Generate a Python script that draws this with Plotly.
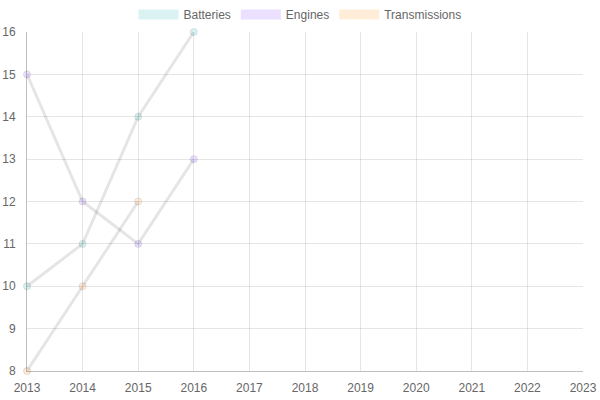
import plotly.graph_objects as go

years = [2013, 2014, 2015, 2016]
batteries = [10, 11, 14, 16]
engines = [15, 12, 11, 13]
transmissions = [8, 10, 12]
series_names = ["Batteries", "Engines", "Transmissions"]
x_ticks = list(range(2013, 2024))
y_ticks = list(range(8, 17))

fills = ["rgba(75,192,192,0.2)", "rgba(153,102,255,0.2)", "rgba(255,159,64,0.2)"]
line_col = "rgba(0,0,0,0.1)"

fig = go.Figure()
data = [batteries, engines, transmissions]
for name, vals, f in zip(series_names, data, fills):
    fig.add_trace(go.Scatter(
        x=years[:len(vals)], y=vals, mode="lines+markers", name=name,
        legendgroup=name, showlegend=False,
        line=dict(color=line_col, width=3),
        marker=dict(size=7, color=f, line=dict(color=line_col, width=1)),
        cliponaxis=False,
    ))
    fig.add_trace(go.Scatter(
        x=[None], y=[None], mode="lines", name=name, legendgroup=name,
        line=dict(color=f, width=11),
    ))

fig.update_layout(
    width=600, height=400,
    margin=dict(l=27, r=17, t=32, b=29, autoexpand=False),
    paper_bgcolor="white", plot_bgcolor="white",
    font=dict(family="Liberation Sans, Arial, sans-serif", size=12, color="#666"),
    showlegend=True,
    legend=dict(orientation="h", x=0.5, xanchor="center", xref="container",
                y=1.0, yanchor="top", yref="container",
                font=dict(size=12, color="#666"), itemwidth=40,
                tracegroupgap=0, bgcolor="rgba(0,0,0,0)"),
    xaxis=dict(range=[2013, 2023], tickvals=x_ticks, showgrid=True,
               gridcolor="rgba(0,0,0,0.1)", zeroline=False, automargin=False,
               showline=True, linecolor="rgba(0,0,0,0.25)", linewidth=1,
               ticks="outside", ticklen=6, tickcolor="rgba(0,0,0,0)",
               tickfont=dict(size=12, color="#666")),
    yaxis=dict(range=[8, 16], tickvals=y_ticks, showgrid=True,
               gridcolor="rgba(0,0,0,0.1)", zeroline=False, automargin=False,
               showline=True, linecolor="rgba(0,0,0,0.25)", linewidth=1,
               ticks="outside", ticklen=8, tickcolor="rgba(0,0,0,0)",
               tickfont=dict(size=12, color="#666")),
)

fig.write_html("out.html", config={"displayModeBar": False},
               post_script="document.body.style.margin='0';")
